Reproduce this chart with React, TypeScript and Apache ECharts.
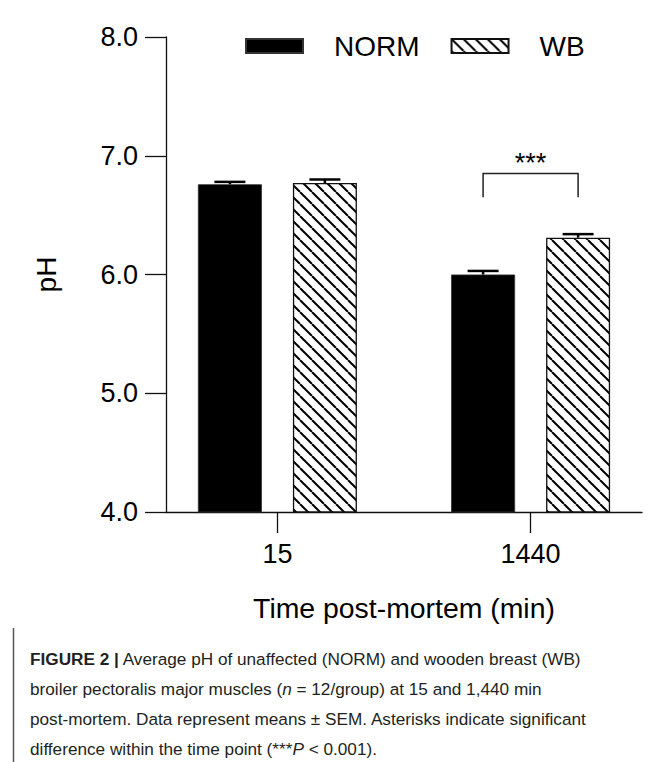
import React, { useEffect, useRef } from "react";
import * as echarts from "echarts";

// ---- data ----
const categories = ["15", "1440"];
const xPositions = [1, 2];
const normMean = [6.76, 6.0];
const normSem = [0.02, 0.03];
const wbMean = [6.77, 6.31];
const wbSem = [0.03, 0.03];
const seriesNames = ["NORM", "WB"];
const yMin = 4;
const yMax = 8;
const yInterval = 1;
const sigCategory = 2; // x position of the 1440 group
const sigLineValue = 6.85;
const sigDropValue = 6.65;
const sigLabel = "***";

const captionLines = [
  "{b|FIGURE 2 |} Average pH of unaffected (NORM) and wooden breast (WB)",
  "broiler pectoralis major muscles ({i|n} = 12/group) at 15 and 1,440 min",
  "post-mortem. Data represent means ± SEM. Asterisks indicate significant",
  "difference within the time point (***{i|P} < 0.001).",
];

const FONT = "'Liberation Sans', Arial, Helvetica, sans-serif";
const CAPTION_FONT = "'Liberation Sans', Arial, sans-serif";
const CAP_SIZE = 17.2;

function makeHatch() {
  const size = 12;
  const c = document.createElement("canvas");
  c.width = size;
  c.height = size;
  const ctx = c.getContext("2d")!;
  ctx.fillStyle = "#fff";
  ctx.fillRect(0, 0, size, size);
  ctx.strokeStyle = "#000";
  ctx.lineWidth = 2;
  for (const k of [-size, 0, size]) {
    ctx.beginPath();
    ctx.moveTo(k, 0);
    ctx.lineTo(k + size, size);
    ctx.stroke();
  }
  return { image: c, repeat: "repeat", imageWidth: size, imageHeight: size } as any;
}

const BAR_W = 64;
const GAP_PX = 31;
const HALF = (BAR_W + GAP_PX) / 2;

function errRender(offset: number) {
  return (params: any, api: any) => {
    const x = api.value(0);
    const m = api.value(1);
    const s = api.value(2);
    const base = api.coord([x, m]);
    const top = api.coord([x, m + s]);
    const cx = base[0] + offset;
    return {
      type: "group",
      children: [
        { type: "line", shape: { x1: cx, y1: base[1], x2: cx, y2: top[1] }, style: { stroke: "#000", lineWidth: 2.5 } },
        { type: "line", shape: { x1: cx - 15.5, y1: top[1], x2: cx + 15.5, y2: top[1] }, style: { stroke: "#000", lineWidth: 2.5 } },
      ],
    };
  };
}

export default function App() {
  const ref = useRef<HTMLDivElement>(null);
  useEffect(() => {
    document.body.style.margin = "0";
    const chart = echarts.init(ref.current!, null, { renderer: "svg" });
    const hatch = makeHatch();
    const option: any = {
      animation: false,
      backgroundColor: "#fff",
      textStyle: { fontFamily: FONT },
      legend: {
        data: seriesNames,
        left: 240,
        top: 27,
        itemWidth: 57,
        itemHeight: 14,
        itemGap: 31,
        icon: "rect",
        textStyle: { fontSize: 28, color: "#000", fontFamily: FONT, padding: [0, 0, 0, 26] },
      },
      grid: { left: 166, top: 37, width: 476, height: 475, containLabel: false },
      xAxis: {
        type: "value",
        min: 0.56,
        max: 2.44,
        name: "Time post-mortem (min)",
        nameLocation: "middle",
        nameGap: 82,
        nameTextStyle: { fontSize: 28.4, color: "#000", fontFamily: FONT },
        axisLine: { lineStyle: { color: "#111", width: 1.3 } },
        axisTick: { show: true, length: 21, customValues: xPositions, lineStyle: { color: "#111", width: 1.3 } },
        axisLabel: {
          customValues: xPositions,
          formatter: (v: number) => categories[xPositions.indexOf(v)] ?? "",
          fontSize: 27,
          color: "#000",
          margin: 28,
          fontFamily: FONT,
        },
        splitLine: { show: false },
      },
      yAxis: {
        type: "value",
        min: yMin,
        max: yMax,
        interval: yInterval,
        name: "pH",
        nameLocation: "middle",
        nameGap: 106,
        nameTextStyle: { fontSize: 28, color: "#000", fontFamily: FONT },
        axisLine: { show: true, lineStyle: { color: "#111", width: 1.3 } },
        axisTick: { show: true, length: 21, lineStyle: { color: "#111", width: 1.3 } },
        axisLabel: {
          formatter: (v: number) => v.toFixed(1),
          fontSize: 27,
          color: "#000",
          margin: 28,
          fontFamily: FONT,
        },
        splitLine: { show: false },
      },
      series: [
        {
          name: seriesNames[0],
          type: "bar",
          barWidth: BAR_W,
          barGap: (GAP_PX / BAR_W) * 100 + "%",
          data: xPositions.map((x, i) => [x, normMean[i]]),
          itemStyle: { color: "#000", borderColor: "#333", borderWidth: 0.8 },
        },
        {
          name: seriesNames[1],
          type: "bar",
          barWidth: BAR_W,
          data: xPositions.map((x, i) => [x, wbMean[i]]),
          itemStyle: { color: hatch, borderColor: "#111", borderWidth: 1.3 },
        },
        {
          name: "normErr",
          type: "custom",
          z: 3,
          renderItem: errRender(-HALF),
          data: xPositions.map((x, i) => [x, normMean[i], normSem[i]]),
        },
        {
          name: "wbErr",
          type: "custom",
          z: 3,
          renderItem: errRender(HALF),
          data: xPositions.map((x, i) => [x, wbMean[i], wbSem[i]]),
        },
        {
          name: "sig",
          type: "custom",
          z: 3,
          renderItem: (params: any, api: any) => {
            const x = api.value(0);
            const line = api.coord([x, api.value(1)]);
            const drop = api.coord([x, api.value(2)]);
            const L = line[0] - HALF;
            const R = line[0] + HALF;
            return {
              type: "group",
              children: [
                {
                  type: "polyline",
                  shape: { points: [[L, drop[1]], [L, line[1]], [R, line[1]], [R, drop[1]]] },
                  style: { stroke: "#222", lineWidth: 1.5, fill: "none" },
                },
                {
                  type: "text",
                  x: line[0],
                  y: line[1] + 3,
                  style: {
                    text: sigLabel,
                    fontSize: 27,
                    fontFamily: FONT,
                    fill: "#000",
                    align: "center",
                    verticalAlign: "bottom",
                  },
                },
              ],
            };
          },
          data: [[sigCategory, sigLineValue, sigDropValue]],
        },
      ],
      graphic: [
        {
          type: "line",
          shape: { x1: 13.5, y1: 628, x2: 13.5, y2: 762 },
          style: { stroke: "#555", lineWidth: 1.5 },
        },
        ...captionLines.map((t, i) => ({
          type: "text",
          left: 30,
          top: 650 + i * 30,
          style: {
            text: t,
            fontSize: CAP_SIZE,
            fontFamily: CAPTION_FONT,
            fill: "#231f20",
            rich: {
              b: { fontWeight: "bold", fontSize: CAP_SIZE, fontFamily: CAPTION_FONT, fill: "#231f20" },
              i: { fontStyle: "italic", fontSize: CAP_SIZE, fontFamily: CAPTION_FONT, fill: "#231f20" },
            },
          },
        })),
      ],
    };
    chart.setOption(option);
    return () => chart.dispose();
  }, []);
  return <div ref={ref} style={{ width: 672, height: 762 }} />;
}
